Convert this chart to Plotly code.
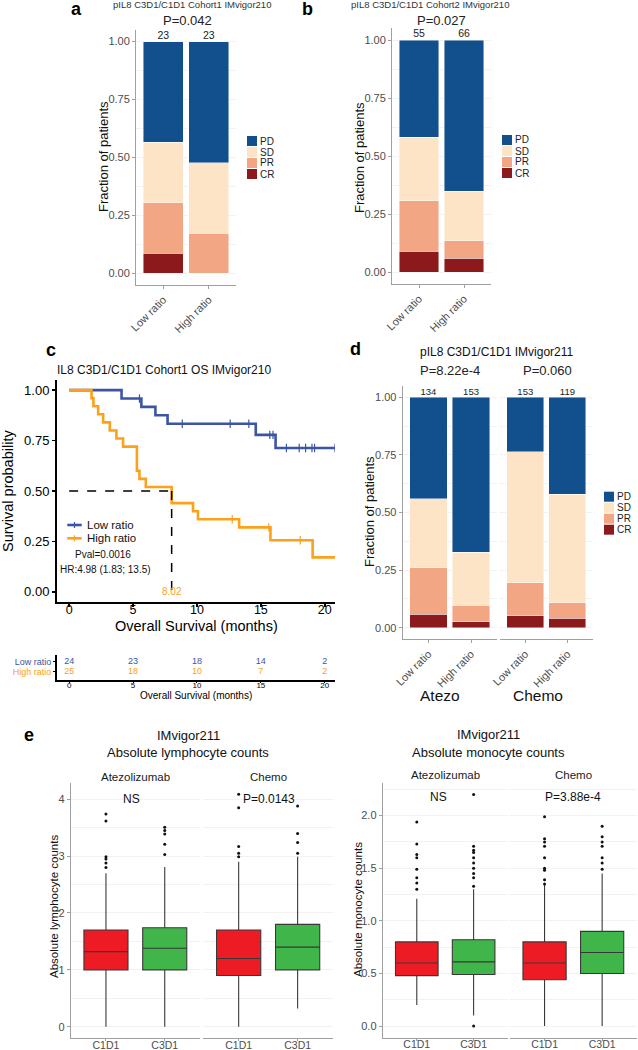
import plotly.graph_objects as go

W, H = 638, 1050
def px(x): return x / W
def py(y): return 1 - y / H

FONT = "Liberation Sans, Arial, Helvetica, sans-serif"
TICK = "#4D4D4D"
AX = "#A0A0A0"
GRID = "#F2F2F2"

# ---------------- data ----------------
responses = ["CR", "PR", "SD", "PD"]            # stacking order bottom -> top
legend_order = ["PD", "SD", "PR", "CR"]
resp_colors = {"PD": "#12508D", "SD": "#FDE4C6", "PR": "#F3A683", "CR": "#8C1A1C"}
ratio_cats = ["Low ratio", "High ratio"]

a_n = [23, 23]
a_counts = {"CR": [2, 0], "PR": [5, 4], "SD": [6, 7], "PD": [10, 12]}
b_n = [55, 66]
b_counts = {"CR": [5, 4], "PR": [12, 5], "SD": [15, 14], "PD": [23, 43]}
d_atezo_n = [134, 153]
d_atezo_counts = {"CR": [8, 4], "PR": [27, 11], "SD": [40, 35], "PD": [59, 103]}
d_chemo_n = [153, 119]
d_chemo_counts = {"CR": [8, 5], "PR": [22, 8], "SD": [87, 56], "PD": [36, 50]}

# Kaplan-Meier (panel c)
km_low_t = [0, 4.1, 5.65, 6.75, 7.7, 14.6, 16.15, 20.8]
km_low_s = [1.0, 0.958, 0.917, 0.875, 0.833, 0.778, 0.713, 0.713]
km_low_cens = [5.5, 8.85, 12.6, 14.06, 15.7, 15.95, 17.0, 18.0, 18.5, 19.0, 19.2, 20.8]
km_high_t = [0, 1.75, 1.9, 2.27, 2.66, 3.18, 3.7, 4.22, 5.3, 5.5, 6.0, 8.02, 9.69, 10.08, 13.3, 15.75, 19.05, 20.8]
km_high_s = [1.0, 0.96, 0.92, 0.88, 0.84, 0.80, 0.76, 0.72, 0.60, 0.56, 0.52, 0.44, 0.40, 0.36, 0.32, 0.256, 0.171, 0.171]
km_high_cens = [12.76, 15.62, 18.08]
median_high = 8.02
risk_times = [0, 5, 10, 15, 20]
risk_low = [24, 23, 18, 14, 2]
risk_high = [25, 18, 10, 7, 2]

# Boxplots (panel e): [lower whisker, Q1, median, Q3, upper whisker]
box_cats = ["C1D1", "C3D1"]
lym_atezo_c1d1 = [0.00, 1.00, 1.32, 1.70, 2.70]
lym_atezo_c3d1 = [0.00, 1.00, 1.38, 1.74, 2.81]
lym_chemo_c1d1 = [0.00, 0.90, 1.20, 1.70, 2.90]
lym_chemo_c3d1 = [0.32, 1.00, 1.40, 1.80, 2.99]
lym_atezo_c1d1_out = [2.80, 2.88, 2.95, 2.99, 3.62, 3.74]
lym_atezo_c3d1_out = [3.03, 3.21, 3.39, 3.45, 3.51]
lym_chemo_c1d1_out = [2.99, 3.05, 3.17, 3.85, 4.09]
lym_chemo_c3d1_out = [3.05, 3.24, 3.40, 3.88]
mono_atezo_c1d1 = [0.20, 0.48, 0.60, 0.80, 1.21]
mono_atezo_c3d1 = [0.10, 0.49, 0.61, 0.82, 1.30]
mono_chemo_c1d1 = [0.00, 0.44, 0.60, 0.80, 1.34]
mono_chemo_c3d1 = [0.00, 0.50, 0.70, 0.90, 1.45]
mono_atezo_c1d1_out = [1.30, 1.36, 1.41, 1.49, 1.60, 1.63, 1.73, 1.94]
mono_atezo_c3d1_out = [0.00, 1.33, 1.41, 1.45, 1.50, 1.55, 1.60, 1.65, 1.67, 1.71, 2.20]
mono_chemo_c1d1_out = [1.35, 1.39, 1.48, 1.50, 1.60, 1.71, 1.75, 1.78, 1.99]
mono_chemo_c3d1_out = [1.49, 1.55, 1.60, 1.71, 1.75, 1.80, 1.90]

BLUE = "#3C54A5"
ORANGE = "#FBA11B"
RED = "#ED1C24"
GREEN = "#3FB54A"

fig = go.Figure()

# ---------------- stacked bars ----------------
def add_bars(counts, ns, xa, ya, label_size):
    for r in responses:
        fig.add_trace(go.Bar(
            x=ratio_cats, y=[c / n for c, n in zip(counts[r], ns)],
            marker=dict(color=resp_colors[r], line=dict(color="rgba(255,255,255,0.75)", width=0.6)),
            width=0.88, xaxis=xa, yaxis=ya, hoverinfo="skip", showlegend=False))
    fig.add_trace(go.Scatter(
        x=ratio_cats, y=[1.0, 1.0], mode="text", text=[str(n) for n in ns],
        textposition="top center", textfont=dict(size=label_size, color="#222222", family=FONT),
        xaxis=xa, yaxis=ya, hoverinfo="skip", showlegend=False))

add_bars(a_counts, a_n, "x", "y", 10.5)
add_bars(b_counts, b_n, "x2", "y2", 10.5)
add_bars(d_atezo_counts, d_atezo_n, "x5", "y5", 9.5)
add_bars(d_chemo_counts, d_chemo_n, "x6", "y5", 9.5)

# ---------------- KM curves ----------------
def step_at(ts, ss, t):
    v = ss[0]
    for ti, si in zip(ts, ss):
        if ti <= t:
            v = si
    return v

for ts, ss, cens, col in [(km_low_t, km_low_s, km_low_cens, BLUE),
                          (km_high_t, km_high_s, km_high_cens, ORANGE)]:
    fig.add_trace(go.Scatter(x=ts, y=ss, mode="lines", line=dict(shape="hv", color=col, width=2.6),
                             xaxis="x3", yaxis="y3", hoverinfo="skip", showlegend=False))
    fig.add_trace(go.Scatter(x=cens, y=[step_at(ts, ss, t) for t in cens], mode="markers",
                             marker=dict(symbol="line-ns", size=6, line=dict(color=col, width=1.2)),
                             xaxis="x3", yaxis="y3", hoverinfo="skip", showlegend=False))

# risk table
fig.add_trace(go.Scatter(x=risk_times, y=[2] * len(risk_times), mode="text",
                         text=[str(v) for v in risk_low], textfont=dict(size=9, color=BLUE, family=FONT),
                         xaxis="x4", yaxis="y4", hoverinfo="skip", showlegend=False))
fig.add_trace(go.Scatter(x=risk_times, y=[1] * len(risk_times), mode="text",
                         text=[str(v) for v in risk_high], textfont=dict(size=9, color=ORANGE, family=FONT),
                         xaxis="x4", yaxis="y4", hoverinfo="skip", showlegend=False))

# ---------------- boxplots ----------------
def add_box(cat, stats, outs, color, xa, ya):
    fig.add_trace(go.Box(x=[cat], lowerfence=[stats[0]], q1=[stats[1]], median=[stats[2]],
                         q3=[stats[3]], upperfence=[stats[4]], fillcolor=color,
                         line=dict(color="#383838", width=1.1), width=0.75, whiskerwidth=0,
                         boxpoints=False, xaxis=xa, yaxis=ya, hoverinfo="skip", showlegend=False))
    fig.add_trace(go.Scatter(x=[cat] * len(outs), y=outs, mode="markers",
                             marker=dict(size=3, color="#111111"),
                             xaxis=xa, yaxis=ya, hoverinfo="skip", showlegend=False))

add_box("C1D1", lym_atezo_c1d1, lym_atezo_c1d1_out, RED, "x7", "y6")
add_box("C3D1", lym_atezo_c3d1, lym_atezo_c3d1_out, GREEN, "x7", "y6")
add_box("C1D1", lym_chemo_c1d1, lym_chemo_c1d1_out, RED, "x8", "y6")
add_box("C3D1", lym_chemo_c3d1, lym_chemo_c3d1_out, GREEN, "x8", "y6")
add_box("C1D1", mono_atezo_c1d1, mono_atezo_c1d1_out, RED, "x9", "y7")
add_box("C3D1", mono_atezo_c3d1, mono_atezo_c3d1_out, GREEN, "x9", "y7")
add_box("C1D1", mono_chemo_c1d1, mono_chemo_c1d1_out, RED, "x10", "y7")
add_box("C3D1", mono_chemo_c3d1, mono_chemo_c3d1_out, GREEN, "x10", "y7")

# ---------------- axes ----------------
def cat_x(x0, x1, anchor, cats, angle, size, ticklen=3, standoff=0):
    return dict(domain=[px(x0), px(x1)], anchor=anchor, type="category",
                categoryorder="array", categoryarray=cats, range=[-0.6, 1.6],
                showline=True, linecolor=AX, linewidth=1, ticks="outside", ticklen=ticklen,
                tickcolor=AX, tickangle=angle, tickfont=dict(size=size, color=TICK, family=FONT),
                ticklabelstandoff=standoff,
                showgrid=False, zeroline=False, fixedrange=True, automargin=False)

def frac_y(y0, y1, anchor, show=True):
    return dict(domain=[py(y1), py(y0)], anchor=anchor, range=[-0.05, 1.05],
                tickvals=[0, 0.25, 0.5, 0.75, 1.0], ticktext=["0.00", "0.25", "0.50", "0.75", "1.00"],
                showline=show, linecolor=AX, linewidth=1, ticks="outside", ticklen=3, tickcolor=AX,
                tickfont=dict(size=11, color=TICK, family=FONT),
                showgrid=True, gridcolor=GRID, gridwidth=1,
                minor=dict(dtick=0.125, tick0=0.125, showgrid=True, gridcolor=GRID),
                zeroline=False, fixedrange=True, automargin=False)

layout_axes = dict(
    xaxis=cat_x(136, 236, "y", ratio_cats, -45, 11),
    yaxis=frac_y(30, 285, "x"),
    xaxis2=cat_x(392, 491, "y2", ratio_cats, -45, 11),
    yaxis2=frac_y(28.4, 284, "x2"),
    xaxis3=dict(domain=[px(57), px(335)], anchor="y3", range=[-0.95, 20.8],
                tickvals=risk_times, showline=True, linecolor="black", linewidth=2,
                ticks="outside", ticklen=3, tickcolor="black", tickwidth=1.5,
                tickfont=dict(size=12.5, color="black", family=FONT), ticklabelstandoff=-8,
                showgrid=False, zeroline=False, automargin=False),
    yaxis3=dict(domain=[py(602), py(380)], anchor="x3", range=[-0.05, 1.05],
                tickvals=[0, 0.25, 0.5, 0.75, 1.0], ticktext=["0.00", "0.25", "0.50", "0.75", "1.00"],
                showline=True, linecolor="black", linewidth=2, ticks="outside", ticklen=3,
                tickcolor="black", tickwidth=1.5, tickfont=dict(size=13, color="black", family=FONT),
                showgrid=False, zeroline=False, automargin=False),
    xaxis4=dict(domain=[px(57), px(335)], anchor="y4", range=[-0.95, 20.8],
                tickvals=risk_times, showline=True, linecolor="black", linewidth=1.5,
                ticks="outside", ticklen=1, tickcolor="black", ticklabelstandoff=-4,
                tickfont=dict(size=8, color="black", family=FONT), showgrid=False, zeroline=False,
                automargin=False),
    yaxis4=dict(domain=[py(680), py(655)], anchor="x4", range=[0.22, 2.65],
                tickvals=[1, 2],
                ticktext=['<span style="color:%s">High ratio</span>' % ORANGE,
                          '<span style="color:%s">Low ratio</span>' % BLUE],
                showline=True, linecolor="black", linewidth=2, ticks="outside", ticklen=2,
                tickcolor="black", tickfont=dict(size=9, family=FONT), showgrid=False, zeroline=False,
                automargin=False),
    xaxis5=cat_x(402.7, 496.7, "y5", ratio_cats, -45, 11),
    xaxis6=cat_x(500, 592.7, "y5", ratio_cats, -45, 11),
    yaxis5=frac_y(385.8, 639.3, "x5"),
    xaxis7=cat_x(70.7, 200, "y6", box_cats, 0, 10.5, ticklen=2, standoff=-5),
    xaxis8=cat_x(203.3, 333, "y6", box_cats, 0, 10.5, ticklen=2, standoff=-5),
    yaxis6=dict(domain=[py(1038.3), py(783.3)], anchor="x7", range=[-0.204, 4.281],
                tickvals=[0, 1, 2, 3, 4], showline=True, linecolor=AX, ticks="outside", ticklen=3,
                tickcolor=AX, tickfont=dict(size=11, color=TICK, family=FONT),
                showgrid=True, gridcolor=GRID, minor=dict(dtick=0.5, showgrid=True, gridcolor=GRID),
                zeroline=False, automargin=False),
    xaxis9=cat_x(382.7, 507.7, "y7", box_cats, 0, 10.5, ticklen=2, standoff=-5),
    xaxis10=cat_x(510, 636.7, "y7", box_cats, 0, 10.5, ticklen=2, standoff=-5),
    yaxis7=dict(domain=[py(1037.7), py(783.3)], anchor="x9", range=[-0.11, 2.307],
                tickvals=[0, 0.5, 1.0, 1.5, 2.0], ticktext=["0.0", "0.5", "1.0", "1.5", "2.0"],
                showline=True, linecolor=AX, ticks="outside", ticklen=3,
                tickcolor=AX, tickfont=dict(size=11, color=TICK, family=FONT),
                showgrid=True, gridcolor=GRID, minor=dict(dtick=0.25, showgrid=True, gridcolor=GRID),
                zeroline=False, automargin=False),
)

# ---------------- annotations & shapes ----------------
ann = []
shapes = []
def text(x, y, s, size, color="#111111", bold=False, angle=0, xanchor="center", family=FONT):
    ann.append(dict(x=px(x), y=py(y), xref="paper", yref="paper", text=("<b>%s</b>" % s) if bold else s,
                    showarrow=False, font=dict(size=size, color=color, family=family),
                    xanchor=xanchor, yanchor="middle", textangle=angle))

# panel letters
for lx, ly, s in [(76, 9, "a"), (307, 9, "b"), (51, 350, "c"), (355.5, 349, "d"), (29, 735, "e")]:
    text(lx, ly, s, 18, "black", bold=True, family="Liberation Sans, Arial, sans-serif")

# panel a / b headings
text(191.7, 5, "pIL8 C3D1/C1D1 Cohort1 IMvigor210", 9.5, "#333333")
text(187.5, 20, "P=0.042", 13, "#222222")
text(430, 5, "pIL8 C3D1/C1D1 Cohort2 IMvigor210", 9.5, "#333333")
text(442, 20, "P=0.027", 13, "#222222")
text(104, 157, "Fraction of patients", 13, "#111111", angle=-90)
text(360, 157, "Fraction of patients", 13, "#111111", angle=-90)

# legends for stacked bars
def bar_legend(x0, y0):
    for i, r in enumerate(legend_order):
        top = y0 + i * 11
        shapes.append(dict(type="rect", xref="paper", yref="paper", x0=px(x0), x1=px(x0 + 10),
                           y0=py(top + 10), y1=py(top), fillcolor=resp_colors[r], line=dict(width=0)))
        text(x0 + 10.5, top + 5, r, 10, "#222222", xanchor="left")
bar_legend(247, 136)
bar_legend(502, 135)
bar_legend(604, 491.7)

# panel c
ann.append(dict(x=px(55), y=py(370), xref="paper", yref="paper", text="IL8 C3D1/C1D1 Cohort1 OS IMvigor210",
                showarrow=False, font=dict(size=12, color="#111111", family=FONT), xanchor="left", yanchor="middle"))
text(8, 491, "Survival probability", 14.5, "black", angle=-90)
text(196.7, 626, "Overall Survival (months)", 14.5, "black")
text(196.3, 695, "Overall Survival (months)", 10, "black")
for yy, col, lab in [(525, BLUE, "Low ratio"), (538.3, ORANGE, "High ratio")]:
    shapes.append(dict(type="line", xref="paper", yref="paper", x0=px(67.3), x1=px(81.7), y0=py(yy), y1=py(yy),
                       line=dict(color=col, width=2.6)))
    shapes.append(dict(type="line", xref="paper", yref="paper", x0=px(74.5), x1=px(74.5), y0=py(yy - 3), y1=py(yy + 3),
                       line=dict(color=col, width=1.2)))
    text(85, yy, lab, 11.5, "#111111", xanchor="left")
text(102.5, 554, "Pval=0.0016", 10, "#111111")
text(105, 569, "HR:4.98 (1.83; 13.5)", 10, "#111111")
# median lines
shapes.append(dict(type="line", xref="x3", yref="y3", x0=0, x1=median_high, y0=0.5, y1=0.5,
                   line=dict(color="black", width=1.5, dash="dash")))
shapes.append(dict(type="line", xref="x3", yref="y3", x0=median_high, x1=median_high, y0=0.5, y1=0,
                   line=dict(color="black", width=1.5, dash="dash")))
ann.append(dict(x=median_high, y=0, xref="x3", yref="y3", text="%.2f" % median_high, showarrow=False,
                font=dict(size=10, color=ORANGE, family=FONT), xanchor="center", yanchor="middle"))

# panel d
text(497, 352, "pIL8 C3D1/C1D1 IMvigor211", 12, "#111111")
text(450, 370, "P=8.22e-4", 13, "#222222")
text(547, 370, "P=0.060", 13, "#222222")
text(369, 512, "Fraction of patients", 13, "#111111", angle=-90)
text(440, 695, "Atezo", 15.5, "#111111")
text(538, 695, "Chemo", 15.5, "#111111")

# panel e
text(188.3, 735, "IMvigor211", 13, "#111111")
text(188.3, 752, "Absolute lymphocyte counts", 13, "#111111")
text(488, 734, "IMvigor211", 13, "#111111")
text(488, 752, "Absolute monocyte counts", 13, "#111111")
text(135.3, 777, "Atezolizumab", 11.5, "#1A1A1A")
text(268, 777, "Chemo", 11.5, "#1A1A1A")
text(445, 775, "Atezolizumab", 11.5, "#1A1A1A")
text(573, 775, "Chemo", 11.5, "#1A1A1A")
text(131, 799, "NS", 12, "#111111")
text(268.5, 799, "P=0.0143", 12, "#111111")
text(438, 797, "NS", 12, "#111111")
text(573, 797, "P=3.88e-4", 12, "#111111")
text(54, 907, "Absolute lymphocyte counts", 11.5, "#111111", angle=-90)
text(358, 910, "Absolute monocyte counts", 11.5, "#111111", angle=-90)

fig.update_layout(
    width=W, height=H, margin=dict(l=0, r=0, t=0, b=0, pad=0),
    paper_bgcolor="white", plot_bgcolor="white",
    barmode="stack", boxmode="overlay", showlegend=False,
    font=dict(family=FONT, color="#111111"),
    annotations=ann, shapes=shapes, **layout_axes)

fig.write_html("out.html", config={"displayModeBar": False, "staticPlot": True},
               post_script="document.body.style.margin='0';document.body.style.padding='0';"
                           "document.body.style.overflow='hidden';")
